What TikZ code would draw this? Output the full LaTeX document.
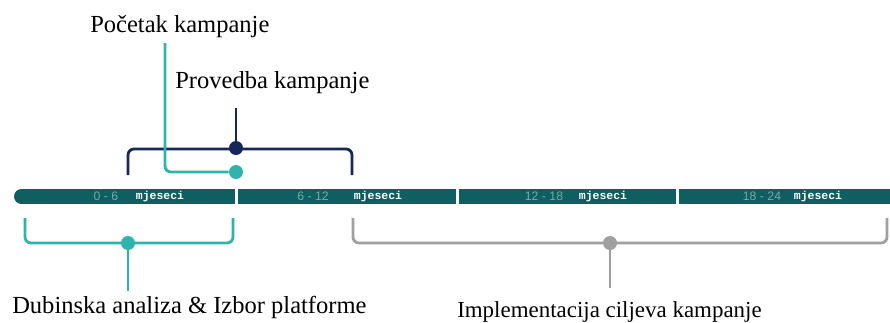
\documentclass[tikz,border=0pt]{standalone}
\usepackage{fontspec}
\setmainfont{Liberation Serif}
\newfontfamily\monthfont{Liberation Mono}
\newfontfamily\rangefont{Liberation Sans}
\usepackage{xcolor}
\usepackage{tikz}

\definecolor{barteal}{RGB}{14,94,98}
\definecolor{navyline}{RGB}{22,40,90}
\definecolor{lightteal}{RGB}{46,180,172}
\definecolor{greyline}{RGB}{160,160,160}
\definecolor{rangecol}{RGB}{115,170,170}

\begin{document}
\begin{tikzpicture}[x=0.75pt,y=0.75pt,yscale=-1,xscale=1,
    navybr/.style={draw=navyline,line width=2.1pt,rounded corners=4.5pt},
    tealbr/.style={draw=lightteal,line width=2.1pt,rounded corners=4.5pt},
    greybr/.style={draw=greyline,line width=2.1pt,rounded corners=4.5pt},
    dot/.style={circle,inner sep=0pt,minimum size=10.5pt},
    caption/.style={inner sep=0pt,font=\fontsize{18.4}{22}\selectfont},
    rangetxt/.style={inner sep=0pt,text=rangecol,font=\rangefont\fontsize{9.2}{10}\selectfont},
    monthtxt/.style={inner sep=0pt,text=white,font=\monthfont\bfseries\fontsize{8.6}{9}\selectfont}]
        \useasboundingbox (0,0) rectangle (890,322);
        %Timeline bar
        \fill [barteal] (21.5,196.5) circle (7.5);
        \fill [barteal] (21.5,189) rectangle (235,204);
        \fill [barteal] (238,189) rectangle (456,204);
        \fill [barteal] (459,189) rectangle (676,204);
        \fill [barteal] (679,189) rectangle (890,204);
        % Bar labels
        \node [rangetxt] (r1) at (106,196.5) {0 - 6};
        \node [monthtxt] (m1) at (160,196.5) {mjeseci};
        \node [rangetxt] (r2) at (313,196.5) {6 - 12};
        \node [monthtxt] (m2) at (378,196.5) {mjeseci};
        \node [rangetxt] (r3) at (544,196.5) {12 - 18};
        \node [monthtxt] (m3) at (603,196.5) {mjeseci};
        \node [rangetxt] (r4) at (762,196.5) {18 - 24};
        \node [monthtxt] (m4) at (818,196.5) {mjeseci};
        % Text Node
        \node [caption,anchor=base west] (pocetak) at (90,32) {Početak kampanje};
        % Text Node
        \node [caption,anchor=base west] (provedba) at (175,88) {Provedba kampanje};
        % Text Node
        \node [caption,anchor=base west] (dubinska) at (12,313) {Dubinska analiza \& Izbor platforme};
        % Text Node
        \node [caption,anchor=base west,font=\fontsize{17.2}{21}\selectfont] (implement) at (457,317) {Implementacija ciljeva kampanje};
        %Free ends of the stems
        \coordinate (pocTop) at (165,43);
        \coordinate (provTop) at (236,108);
        \coordinate (dubEnd) at (128,291);
        \coordinate (implEnd) at (610,288);
        %Dots
        \node [dot,fill=navyline] (provDot) at (236,148) {};
        \node [dot,fill=lightteal] (pocDot) at (236,172) {};
        \node [dot,fill=lightteal] (dubDot) at (128,243) {};
        \node [dot,fill=greyline] (implDot) at (610,243) {};
        %Brackets
        \draw [navybr] (128,175) -- (128,149) -- (352,149) -- (352,175);
        \draw [tealbr] (25,218) -- (25,243) -- (233,243) -- (233,218);
        \draw [greybr] (353,218) -- (353,243) -- (887,243) -- (887,218);
        %Stems
        \draw [navyline,line width=2.1pt] (provDot) -- (provTop);
        \draw [tealbr] (pocTop) |- (pocDot);
        \draw [lightteal,line width=2.1pt] (dubDot) -- (dubEnd);
        \draw [greyline,line width=2.1pt] (implDot) -- (implEnd);
\end{tikzpicture}
\end{document}
